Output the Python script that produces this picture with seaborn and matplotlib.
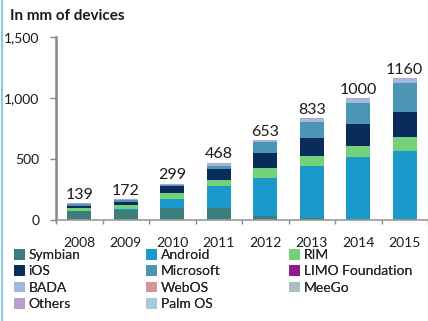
import matplotlib
matplotlib.use("Agg")
import matplotlib.pyplot as plt
from matplotlib.patches import Patch
from matplotlib.lines import Line2D
from matplotlib.ticker import FuncFormatter, MultipleLocator
import seaborn as sns
import pandas as pd

years = [2008, 2009, 2010, 2011, 2012, 2013, 2014, 2015]
totals = [139, 172, 299, 468, 653, 833, 1000, 1160]

symbian   = [75, 80, 100, 95, 30, 15, 10, 5]
android   = [1, 7, 70, 180, 314, 428, 506, 561]
rim       = [23, 35, 50, 55, 82, 82, 91, 114]
ios       = [12, 25, 55, 85, 123, 147, 180, 205]
microsoft = [17, 15, 10, 25, 90, 131, 172, 238]
limo      = [3, 2, 2, 2, 0, 0, 0, 0]
bada      = [0, 0, 2, 8, 8, 20, 30, 25]
webos     = [0, 0, 1, 2, 1, 0, 0, 0]
meego     = [0, 0, 0, 3, 3, 5, 6, 7]
others    = [8, 8, 9, 13, 2, 5, 5, 5]
palmos    = [0, 0, 0, 0, 0, 0, 0, 0]

os_names = ["Symbian", "Android", "RIM", "iOS", "Microsoft", "LIMO Foundation",
            "BADA", "WebOS", "MeeGo", "Others", "Palm OS"]
series = [symbian, android, rim, ios, microsoft, limo, bada, webos, meego, others, palmos]
colors = ["#3d7d7b", "#1b98cc", "#72d27a", "#0b2b5c", "#4b95b5", "#8e1e8c",
          "#a3b8df", "#d8949e", "#a9bfc2", "#b7a0cb", "#a9c9df"]

rows = []
for name, vals in zip(os_names, series):
    for y, v in zip(years, vals):
        rows.append({"year": y, "os": name, "value": v})
df = pd.DataFrame(rows)

sns.set_theme(style="white")
plt.rcParams["font.family"] = ["Lato", "DejaVu Sans"]

fig = plt.figure(figsize=(4.28, 3.21), dpi=100)
ax = fig.add_axes([56 / 428, (321 - 220) / 321, 372 / 428, 183 / 321])

palette = dict(zip(os_names, colors))
# histplot stacks the first hue level on top, so reverse the order
sns.histplot(data=df, x="year", weights="value", hue="os",
             hue_order=os_names[::-1], palette=palette, multiple="stack",
             discrete=True, shrink=0.52, linewidth=0, alpha=1,
             legend=False, ax=ax)

for y, t in zip(years, totals):
    ax.text(y, t + 12, str(t), ha="center", va="bottom", fontsize=11.5,
            color="#1a1a1a")

ax.set_xlim(2007.5, 2015.5)
ax.set_ylim(0, 1500)
ax.set_xlabel("")
ax.set_ylabel("")
ax.set_xticks(years)
ax.set_xticklabels([str(y) for y in years], fontsize=10, color="#1a1a1a")
ax.set_xticks([y - 0.5 for y in years] + [2015.5], minor=True)
ax.tick_params(axis="x", which="major", length=0, pad=12)
ax.tick_params(axis="x", which="minor", length=3, width=1, color="#888888",
               direction="out", bottom=True)
ax.yaxis.set_major_locator(MultipleLocator(500))
ax.yaxis.set_major_formatter(FuncFormatter(lambda v, p: f"{int(v):,}"))
ax.tick_params(axis="y", length=4, width=1, color="#888888", direction="out",
               left=True, labelsize=10, labelcolor="#1a1a1a", pad=8)
for s in ["top", "right"]:
    ax.spines[s].set_visible(False)
ax.spines["left"].set_color("#888888")
ax.spines["left"].set_linewidth(1.8)
ax.spines["bottom"].set_color("#999999")
ax.spines["bottom"].set_linewidth(1.2)

fig.text(10 / 428, 1 - 16 / 321, "In mm of devices", fontsize=11,
         fontweight="bold", color="#1a1a1a", ha="left", va="center")

# legend reads row-wise in 3 columns; draw one legend per column
ncols = 3
col_x = [14, 146, 289]
for c in range(ncols):
    idx = list(range(c, len(os_names), ncols))
    handles = [Patch(facecolor=colors[i], edgecolor="none") for i in idx]
    labels = [os_names[i] for i in idx]
    leg = fig.legend(handles, labels, ncol=1, loc="upper left",
                     bbox_to_anchor=(col_x[c] / 428, 1 - 249 / 321),
                     frameon=False, fontsize=10, handlelength=0.8,
                     handleheight=0.8, handletextpad=0.25, labelspacing=0.3,
                     borderaxespad=0, borderpad=0)
    fig.add_artist(leg)

fig.add_artist(Line2D([0.004, 0.004], [0, 1], transform=fig.transFigure,
                      color="#8cc8e0", linewidth=1.5))

fig.savefig("out.png", dpi=100)
